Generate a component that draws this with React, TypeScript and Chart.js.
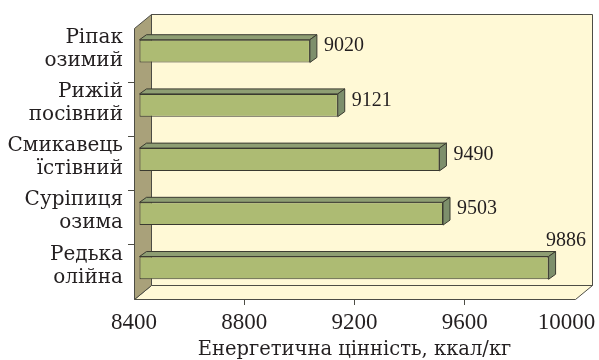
import React, { useEffect, useRef } from 'react';
import { Chart, registerables } from 'chart.js';

Chart.register(...registerables);

// ---- data ----
const categories: string[][] = [
  ['Ріпак', 'озимий'],
  ['Рижій', 'посівний'],
  ['Смикавець', 'їстівний'],
  ['Суріпиця', 'озима'],
  ['Редька', 'олійна'],
];
const values: number[] = [9020, 9121, 9490, 9503, 9886];
const xTicks: number[] = [8400, 8800, 9200, 9600, 10000];
const axisTitle = 'Енергетична цінність, ккал/кг';

// ---- style ----
const W = 599;
const H = 372;
const NUM_FONT = "'Liberation Serif', 'Times New Roman', serif";
const TXT_FONT = "'DejaVu Serif', 'Liberation Serif', serif";
const DX = 17, DY = -14; // chart depth
const BSX = 5, BSY = -4; // bar front plane shift
const BDX = 7, BDY = -5; // bar depth
const WALL = '#fff9d6';
const SIDE = '#a9a17a';
const EDGE = '#4d4d45';
const BAR_FRONT = '#adbb73';
const BAR_TOP = '#8e9e73';
const BAR_RIGHT = '#7d8f6c';
const BAR_EDGE = '#3a3a30';
const TEXT = '#231f20';

function poly(ctx: CanvasRenderingContext2D, pts: number[][], fill: string, stroke: string) {
  ctx.beginPath();
  pts.forEach((p, i) => (i === 0 ? ctx.moveTo(p[0], p[1]) : ctx.lineTo(p[0], p[1])));
  ctx.closePath();
  ctx.fillStyle = fill;
  ctx.fill();
  ctx.strokeStyle = stroke;
  ctx.stroke();
}

const threeD = {
  id: 'threeD',
  beforeDraw(chart: any) {
    const { ctx, chartArea: a } = chart;
    const L = Math.round(a.left) + 0.5, R = Math.round(a.right) + 0.5;
    const T = Math.round(a.top) + 0.5, B = Math.round(a.bottom) + 0.5;
    ctx.save();
    ctx.lineWidth = 1;
    poly(ctx, [[L + DX, T + DY], [R + DX, T + DY], [R + DX, B + DY], [L + DX, B + DY]], WALL, EDGE);
    poly(ctx, [[L, B], [L + DX, B + DY], [R + DX, B + DY], [R, B]], WALL, EDGE);
    poly(ctx, [[L, T], [L + DX, T + DY], [L + DX, B + DY], [L, B]], SIDE, EDGE);
    ctx.restore();
  },
  beforeDatasetsDraw(chart: any) {
    chart.ctx.save();
    chart.ctx.translate(BSX, BSY);
  },
  afterDatasetsDraw(chart: any) {
    const { ctx, chartArea: a } = chart;
    ctx.restore();
    const meta = chart.getDatasetMeta(0);
    ctx.save();
    ctx.lineWidth = 1;
    meta.data.forEach((bar: any, i: number) => {
      const h = bar.height;
      const left = bar.base + BSX;
      const right = bar.x + BSX;
      const top = bar.y - h / 2 + BSY;
      const bottom = bar.y + h / 2 + BSY;
      poly(ctx, [[left, top], [left + BDX, top + BDY], [right + BDX, top + BDY], [right, top]], BAR_TOP, BAR_EDGE);
      poly(ctx, [[right, top], [right + BDX, top + BDY], [right + BDX, bottom + BDY], [right, bottom]], BAR_RIGHT, BAR_EDGE);

      const label = String(values[i]);
      ctx.font = `20px ${NUM_FONT}`;
      ctx.fillStyle = TEXT;
      const tw = ctx.measureText(label).width;
      const bx = right + BDX;
      const lx = bx + 7;
      if (lx + tw > a.right + DX) {
        ctx.textAlign = 'center';
        ctx.textBaseline = 'alphabetic';
        ctx.fillText(label, a.right + DX - tw / 2 - 6, top + BDY - 6);
      } else {
        ctx.textAlign = 'left';
        ctx.textBaseline = 'middle';
        ctx.fillText(label, lx, (top + bottom) / 2 + BDY);
      }
    });
    ctx.restore();
  },
};

export default function App() {
  const ref = useRef<HTMLCanvasElement>(null);
  useEffect(() => {
    if (!ref.current) return;
    const chart = new Chart(ref.current, {
      type: 'bar',
      data: {
        labels: categories as any,
        datasets: [
          {
            data: values,
            base: xTicks[0],
            backgroundColor: BAR_FRONT,
            borderColor: BAR_EDGE,
            borderWidth: 1,
            borderSkipped: false,
            categoryPercentage: 1,
            barPercentage: 0.42,
            clip: false as any,
          },
        ],
      },
      options: {
        responsive: false,
        animation: false,
        indexAxis: 'y',
        layout: { padding: { left: 0, top: 28, right: 24, bottom: 0 } },
        plugins: { legend: { display: false }, tooltip: { enabled: false } },
        scales: {
          x: {
            type: 'linear',
            min: xTicks[0],
            max: xTicks[xTicks.length - 1],
            afterBuildTicks: (s: any) => {
              s.ticks = xTicks.map((v) => ({ value: v }));
            },
            afterFit: (s: any) => {
              s.height = H - 299;
              s.paddingLeft = 0;
              s.paddingRight = 0;
            },
            grid: {
              drawOnChartArea: false,
              tickLength: 6,
              color: (c: any) =>
                c.index === 0 || c.index === xTicks.length - 1 || c.index === undefined ? 'rgba(0,0,0,0)' : EDGE,
            },
            border: { display: false },
            ticks: {
              font: { family: NUM_FONT, size: 23 },
              color: TEXT,
              padding: 4,
              maxRotation: 0,
              // last label nudged inward (as in the original) with trailing spacing
              callback: (v: any, i: number, arr: any[]) => (i === arr.length - 1 ? String(v) + '\u2002 ' : String(v)),
            },
            title: {
              display: true,
              text: axisTitle,
              font: { family: TXT_FONT, size: 19.5 },
              color: TEXT,
              padding: { top: 0, bottom: 10 },
            },
          },
          y: {
            type: 'category',
            afterFit: (s: any) => {
              s.width = 134;
            },
            grid: {
              offset: true,
              drawOnChartArea: false,
              tickLength: 6,
              color: (c: any) => (c.index === 0 || c.index === undefined ? 'rgba(0,0,0,0)' : EDGE),
            },
            border: { display: false },
            ticks: {
              font: { family: TXT_FONT, size: 20, lineHeight: 1.15 },
              color: TEXT,
              padding: 5,
              labelOffset: -6,
            },
          },
        },
      },
      plugins: [threeD],
    } as any);
    return () => chart.destroy();
  }, []);
  return (
    <div style={{ position: 'absolute', left: 0, top: 0, width: W, height: 360, overflow: 'hidden', background: '#fff' }}>
      <canvas ref={ref} width={W} height={H} style={{ display: 'block', width: W, height: H }} />
    </div>
  );
}
